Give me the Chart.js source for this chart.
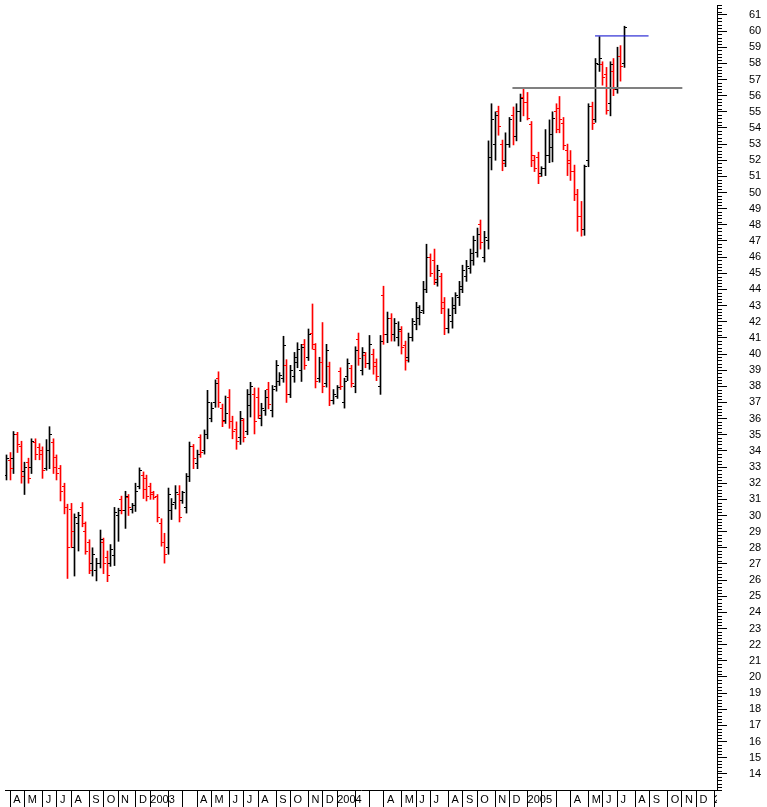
<!DOCTYPE html>
<html>
<head>
<meta charset="utf-8">
<script src="https://cdn.jsdelivr.net/npm/chart.js@4.4.1/dist/chart.umd.min.js"></script>
<style>
  html, body { margin: 0; padding: 0; background: #fff; }
</style>
</head>
<body>
<canvas id="chart" width="767" height="807"></canvas>
<script>
// weekly OHLC bars, bar 0 = week ending 2002-03-29
const firstWeek = Date.UTC(2002, 2, 29);

const opens = [
  32.5, 33.4, 33.5, 35.0, 34.3, 32.7, 33.3, 33.0, 34.5, 34.2,
  34.0, 32.9, 34.0, 34.5, 33.6, 32.9, 31.8, 30.5, 30.4, 28.0,
  29.5, 30.5, 29.0, 28.3, 27.0, 26.6, 27.0, 28.3, 27.4, 27.0,
  27.5, 30.0, 31.0, 30.3, 31.1, 30.4, 30.6, 31.8, 32.5, 32.3,
  31.8, 31.4, 31.2, 29.5, 28.3, 28.0, 30.3, 30.8, 31.3, 30.9,
  30.5, 32.4, 34.3, 33.2, 34.8, 34.0, 35.0, 36.0, 37.0, 38.5,
  36.6, 35.9, 37.3, 35.8, 35.3, 34.8, 35.9, 35.2, 36.8, 37.5,
  37.3, 36.0, 36.5, 37.8, 36.5, 38.0, 38.3, 38.5, 39.3, 37.5,
  38.6, 39.5, 39.0, 40.6, 39.8, 41.3, 40.3, 38.5, 39.5, 38.2,
  39.2, 37.1, 37.4, 38.9, 37.0, 38.6, 39.1, 38.0, 40.9, 39.0,
  39.9, 39.4, 40.0, 39.5, 38.0, 43.6, 41.2, 42.2, 41.2, 41.0,
  41.4, 40.5, 39.8, 41.0, 41.8, 42.2, 42.7, 44.0, 46.0, 45.8,
  44.4, 44.8, 43.2, 41.6, 42.0, 42.8, 43.5, 44.0, 44.8, 45.3,
  45.8, 46.3, 48.0, 46.0, 47.0, 52.2, 53.0, 55.0, 53.0, 52.0,
  53.0, 54.8, 53.5, 55.0, 55.9, 55.6, 54.2, 52.0, 52.2, 51.2,
  51.5, 52.3, 52.8, 55.0, 55.2, 54.3, 52.6, 52.0, 51.3, 49.9,
  48.5, 47.7, 52.0, 55.3, 54.5, 57.9, 57.9, 57.3, 55.5, 57.5,
  56.4, 58.4, 58.0
];
const highs = [
  33.75, 33.9, 35.2, 35.15, 34.6, 33.3, 33.55, 34.75, 34.75, 34.45,
  34.25, 34.7, 35.5, 34.75, 33.75, 33.1, 32.0, 30.7, 30.75, 30.1,
  30.2, 30.8, 29.6, 28.5, 28.0, 27.35, 29.1, 28.6, 27.8, 28.2,
  30.5, 30.45, 31.2, 31.5, 31.3, 30.75, 32.0, 32.95, 32.7, 32.5,
  32.0, 31.5, 31.3, 29.8, 28.9, 31.7, 31.05, 31.85, 31.85, 31.5,
  32.6, 34.55, 34.4, 34.05, 35.0, 35.3, 37.75, 37.0, 38.4, 38.9,
  36.9, 37.4, 37.8, 36.15, 35.8, 36.45, 36.0, 37.8, 38.25, 37.9,
  37.9, 36.95, 37.75, 38.25, 38.05, 39.6, 38.85, 41.1, 39.65, 39.3,
  40.1, 40.7, 40.6, 40.9, 41.55, 43.1, 40.65, 39.8, 41.95, 40.6,
  39.5, 37.8, 38.05, 39.15, 38.5, 39.7, 39.3, 40.45, 41.3, 40.4,
  40.1, 41.15, 40.3, 39.7, 41.15, 44.2, 42.6, 42.5, 42.2, 42.0,
  41.7, 40.8, 41.3, 42.2, 43.2, 43.0, 44.5, 46.8, 46.2, 46.5,
  45.5, 45.0, 43.5, 42.8, 43.5, 43.8, 44.5, 45.5, 45.8, 46.5,
  47.3, 47.8, 48.3, 47.6, 53.2, 55.5, 55.0, 55.35, 53.25, 53.7,
  54.65, 55.3, 55.5, 56.1, 56.4, 56.2, 54.4, 52.3, 52.5, 51.6,
  53.9, 54.5, 55.0, 55.5, 55.95, 54.65, 53.0, 52.6, 51.7, 50.2,
  49.45, 51.7, 55.5, 55.6, 58.3, 59.65, 58.1, 57.75, 58.1, 58.3,
  59.0, 59.1, 60.3
];
const lows = [
  32.2, 32.2, 32.6, 33.9, 32.0, 31.3, 32.0, 32.6, 33.45, 33.45,
  32.3, 32.8, 32.9, 32.6, 32.2, 30.9, 30.1, 26.1, 28.0, 26.25,
  27.8, 29.3, 27.6, 26.4, 26.25, 25.95, 26.75, 26.4, 25.9, 26.85,
  26.9, 28.4, 30.1, 29.2, 30.0, 30.15, 30.25, 31.65, 31.05, 30.9,
  31.0, 31.0, 29.6, 28.1, 27.05, 27.6, 29.75, 30.4, 29.6, 30.75,
  30.15, 32.1, 32.9, 32.9, 33.6, 33.8, 34.75, 35.8, 36.7, 36.7,
  35.5, 35.7, 35.4, 34.75, 34.1, 34.4, 34.55, 35.0, 36.1, 35.05,
  36.0, 35.55, 36.2, 36.6, 36.1, 37.7, 38.05, 38.25, 37.0, 37.3,
  38.25, 39.15, 38.3, 39.05, 39.6, 40.3, 37.9, 38.25, 37.6, 37.95,
  36.8, 36.9, 37.25, 37.8, 36.65, 38.35, 37.95, 37.6, 39.3, 38.7,
  39.15, 39.05, 38.75, 38.35, 37.5, 40.6, 40.7, 40.8, 40.8, 40.5,
  40.0, 39.0, 39.5, 40.8, 41.5, 41.8, 42.5, 43.8, 44.8, 44.3,
  44.2, 42.5, 41.2, 41.3, 41.6, 42.5, 43.0, 43.8, 44.5, 45.0,
  45.5, 46.0, 46.5, 45.7, 46.5, 51.4, 52.0, 53.55, 51.35, 51.6,
  52.8, 52.95, 53.2, 54.4, 54.75, 54.5, 51.6, 51.3, 50.55, 51.0,
  51.05, 51.85, 51.9, 53.7, 53.7, 52.65, 51.05, 50.75, 49.5, 47.6,
  47.3, 47.35, 51.6, 53.9, 54.35, 57.5, 56.65, 54.85, 54.75, 56.0,
  56.15, 56.9, 57.75
];
const closes = [
  33.5, 32.9, 35.0, 34.4, 32.4, 33.0, 32.3, 34.6, 33.8, 33.8,
  32.8, 34.0, 35.0, 33.0, 32.6, 31.5, 30.5, 28.0, 29.0, 29.9,
  30.0, 29.5, 27.8, 26.6, 27.6, 27.0, 28.5, 27.0, 26.3, 27.9,
  30.2, 30.3, 30.3, 31.2, 30.5, 30.6, 31.5, 32.8, 31.6, 31.2,
  31.3, 31.1, 29.9, 28.3, 27.6, 31.3, 30.7, 31.4, 29.9, 31.4,
  32.4, 34.3, 33.5, 33.8, 33.9, 35.0, 37.0, 36.6, 38.2, 37.0,
  35.8, 36.3, 35.8, 35.2, 34.6, 36.0, 34.8, 37.5, 38.0, 35.8,
  36.2, 36.6, 37.3, 36.9, 37.8, 39.3, 38.7, 40.5, 37.5, 39.0,
  39.8, 40.3, 40.4, 39.3, 41.2, 40.6, 38.3, 39.5, 38.0, 40.2,
  37.1, 37.5, 37.9, 38.0, 38.3, 39.4, 38.2, 40.2, 39.7, 40.1,
  39.4, 40.6, 39.2, 38.6, 40.8, 41.2, 42.2, 41.2, 41.9, 41.5,
  40.4, 39.6, 41.0, 42.0, 42.9, 42.6, 44.0, 46.0, 45.0, 44.6,
  45.2, 42.8, 41.6, 42.4, 43.0, 43.6, 44.2, 45.2, 45.4, 46.2,
  47.0, 47.4, 46.9, 47.2, 52.2, 54.5, 54.8, 54.1, 51.8, 53.0,
  54.5, 53.5, 55.0, 55.8, 55.6, 54.6, 52.3, 51.5, 51.0, 51.5,
  52.3, 53.6, 54.6, 53.9, 54.5, 52.9, 51.8, 51.3, 49.9, 48.5,
  47.7, 51.6, 55.3, 54.3, 58.0, 58.3, 57.1, 55.1, 57.9, 56.4,
  58.4, 57.8, 60.2
];

// horizontal lines drawn on the chart (price level, first week, last week)
const resistanceLevel = 56.48;
const resistanceWeeks = [140.8, 188.1];
const breakoutLevel = 59.7;
const breakoutWeeks = [163.8, 178.7];

// month letters for the bottom strip; January shows the year, Feb/Mar are left blank
const monthLetters = ['', '', '', 'A', 'M', 'J', 'J', 'A', 'S', 'O', 'N', 'D'];
const priceTicks = [];
for (let p = 14; p <= 61; p++) priceTicks.push(p);

// month separators sit on the first weekly bar of each month
const monthTicks = [];
const monthLabels = [];
for (let y = 2002, m = 3; y < 2006 || m === 0 && y === 2006; ) {
  const weeks = (Date.UTC(y, m, 1) - firstWeek) / (7 * 864e5);
  monthTicks.push(Math.ceil(weeks - 0.01));
  monthLabels.push(m === 0 ? String(y) : (monthLetters[m] ? ' ' + monthLetters[m] : ''));
  m++;
  if (m === 12) { m = 0; y++; }
}

const RED = '#ff0000';
const BLACK = '#000000';
const barColors = closes.map((c, i) => (c < opens[i] ? RED : BLACK));

function tickMark(color, left) {
  const c = document.createElement('canvas');
  c.width = 5;
  c.height = 1;
  const g = c.getContext('2d');
  g.fillStyle = color;
  g.fillRect(left ? 0 : 2, 0, 3, 1);
  return c;
}
const openMarks = { [RED]: tickMark(RED, true), [BLACK]: tickMark(BLACK, true) };
const closeMarks = { [RED]: tickMark(RED, false), [BLACK]: tickMark(BLACK, false) };

const font = { family: "'Liberation Sans', Arial, sans-serif", size: 11 };

// snap bars and ticks to whole pixels so the 1px lines stay crisp
const pixelSnap = {
  id: 'pixelSnap',
  beforeDatasetsDraw(chart) {
    chart.getSortedVisibleDatasetMetas().forEach(meta => {
      if (meta.type !== 'bar' && meta.type !== 'scatter') return;
      meta.data.forEach(el => {
        el.x = Math.round(el.x - 0.5) + 0.5;
        if (meta.type === 'scatter') el.y = Math.round(el.y - 0.5) + 0.5;
      });
    });
  }
};

// the month strip is cut off at the price axis, minor price ticks every 0.2
const axisExtras = {
  id: 'axisExtras',
  beforeDraw(chart) {
    const xs = chart.scales.x;
    if (!xs._clipPatched) {
      const orig = xs.drawLabels.bind(xs);
      xs.drawLabels = function(area) {
        const c = chart.ctx;
        c.save();
        c.beginPath();
        c.rect(0, 0, chart.chartArea.right, chart.height);
        c.clip();
        orig(area);
        c.restore();
      };
      xs._clipPatched = true;
    }
  },
  afterDraw(chart) {
    const ys = chart.scales.y;
    const c = chart.ctx;
    const x0 = chart.chartArea.right;
    c.save();
    c.strokeStyle = BLACK;
    c.lineWidth = 1;
    c.beginPath();
    for (let k = 65; k <= 308; k++) {
      if (k % 5 === 0 && k >= 70) continue;
      const py = Math.round(ys.getPixelForValue(k / 5)) + 0.5;
      c.moveTo(x0, py);
      c.lineTo(x0 + 5, py);
    }
    c.stroke();
    c.restore();
  }
};

new Chart(document.getElementById('chart'), {
  data: {
    datasets: [
      {
        type: 'line',
        data: resistanceWeeks.map(w => ({ x: w, y: resistanceLevel })),
        borderColor: '#808080',
        borderWidth: 2,
        pointRadius: 0,
        order: 0
      },
      {
        type: 'line',
        data: breakoutWeeks.map(w => ({ x: w, y: breakoutLevel })),
        borderColor: '#0000cc',
        borderWidth: 1,
        pointRadius: 0,
        order: 0
      },
      {
        type: 'scatter',
        data: opens.map((o, i) => ({ x: i, y: o })),
        pointStyle: ctx => openMarks[barColors[ctx.dataIndex]],
        pointRadius: 3,
        order: 1
      },
      {
        type: 'scatter',
        data: closes.map((c, i) => ({ x: i, y: c })),
        pointStyle: ctx => closeMarks[barColors[ctx.dataIndex]],
        pointRadius: 3,
        order: 1
      },
      {
        type: 'bar',
        data: highs.map((h, i) => ({ x: i, y: [lows[i], h] })),
        backgroundColor: barColors,
        borderWidth: 0,
        barThickness: 1,
        grouped: false,
        order: 2
      }
    ]
  },
  options: {
    responsive: false,
    devicePixelRatio: 1,
    animation: false,
    events: [],
    layout: { padding: 0 },
    plugins: { legend: { display: false }, tooltip: { enabled: false } },
    scales: {
      x: {
        type: 'linear',
        min: -0.47,
        max: 197.75,
        bounds: 'data',
        offset: false,
        grid: { drawOnChartArea: false, drawTicks: true, tickLength: 17, color: BLACK, offset: false },
        border: { display: true, color: BLACK, width: 1 },
        ticks: {
          align: 'start',
          padding: -14,
          color: BLACK,
          font: font,
          autoSkip: false,
          maxRotation: 0,
          minRotation: 0,
          callback: (v, i) => monthLabels[i]
        },
        afterBuildTicks: s => { s.ticks = monthTicks.map(v => ({ value: v })); },
        afterFit: s => { s.height = 17; s.paddingLeft = 0; s.paddingRight = 0; }
      },
      y: {
        type: 'linear',
        position: 'right',
        min: 13,
        max: 61.615,
        bounds: 'data',
        grid: { drawOnChartArea: false, drawTicks: true, tickLength: 10, color: BLACK },
        border: { display: true, color: BLACK, width: 1 },
        ticks: { padding: 22, color: BLACK, font: font, callback: v => String(v) },
        afterBuildTicks: s => { s.ticks = priceTicks.map(v => ({ value: v })); },
        afterFit: s => { s.width = 50; s.paddingTop = 0; s.paddingBottom = 0; }
      }
    }
  },
  plugins: [pixelSnap, axisExtras]
});
</script>
</body>
</html>
